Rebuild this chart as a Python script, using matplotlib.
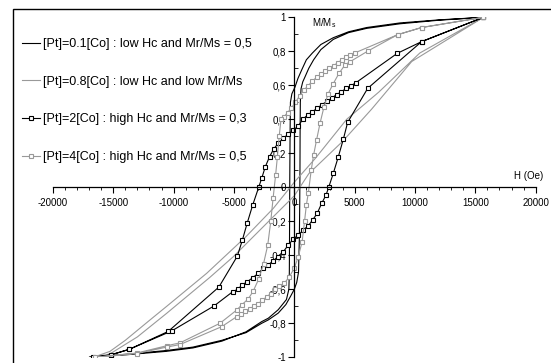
import matplotlib
matplotlib.use('Agg')
import matplotlib.pyplot as plt
from matplotlib.ticker import MultipleLocator, FuncFormatter
from matplotlib.patches import Rectangle

plt.rcParams['font.family'] = ['Liberation Sans', 'DejaVu Sans']
plt.rcParams['mathtext.fontset'] = 'custom'
plt.rcParams['mathtext.rm'] = 'Liberation Sans'

# series labels
labels = ['[Pt]=0.1[Co] : low Hc and Mr/Ms = 0,5',
          '[Pt]=0.8[Co] : low Hc and low Mr/Ms',
          '[Pt]=2[Co] : high Hc and Mr/Ms = 0,3',
          '[Pt]=4[Co] : high Hc and Mr/Ms = 0,5']

# [Pt]=0.1[Co] - descending branch then ascending branch
h1 = [15670, 12000, 8760, 6000, 4500, 3230, 2200, 1500, 1000, 610, 300, 60, -200, -320,
      -350, -370, -385, -395, -410, -450, -650, -1330, -2150, -2700, -4000, -6000, -8400,
      -10600, -13890, -16650, -17000,
      -16650, -13890, -10600, -8400, -6000, -4000, -2700, -2150, -1330, -700, -300, 0, 200,
      350, 420, 450, 470, 480, 500, 560, 700, 890, 1200, 1600, 2200, 3230, 4500, 6000,
      8760, 12000, 15670]
m1 = [1.0, 0.985, 0.967, 0.94, 0.915, 0.88, 0.84, 0.79, 0.75, 0.69, 0.64, 0.59, 0.55, 0.5,
      0.3, 0.1, -0.1, -0.3, -0.5, -0.6, -0.66, -0.72, -0.77, -0.79, -0.85, -0.905, -0.945,
      -0.965, -0.985, -0.998, -1.0,
      -0.997, -0.982, -0.96, -0.94, -0.9, -0.855, -0.8, -0.78, -0.74, -0.69, -0.64, -0.6, -0.56,
      -0.5, -0.3, -0.1, 0.1, 0.3, 0.5, 0.58, 0.62, 0.65, 0.7, 0.75, 0.81, 0.87, 0.91, 0.935,
      0.962, 0.983, 1.0]

# [Pt]=0.8[Co]
h2 = [15670, 10400, 7000, 4340, 1740, 0, -1740, -4000, -7260, -10570, -11950, -14000,
      -15270, -16650,
      -15270, -13000, -10570, -7000, -5050, -1740, 0, 1200, 4000, 6410, 9730, 15670]
m2 = [1.0, 0.79, 0.56, 0.40, 0.17, 0.03, -0.124, -0.29, -0.506, -0.70, -0.78, -0.90,
      -0.965, -1.0,
      -0.98, -0.88, -0.741, -0.53, -0.408, -0.173, -0.05, 0.08, 0.27, 0.46, 0.74, 1.0]

# [Pt]=2[Co]
h3 = [15670, 10550, 8530, 5100, 4700, 4300, 3900, 3500, 3100, 2700, 2300, 1900, 1500, 1100,
      700, 330, -80, -500, -910, -1330, -1700, -2050, -2400, -2700, -2950, -3450, -3900,
      -4300, -4720, -6250, -10450, -13670, -15210, -16650,
      -15210, -13670, -10160, -6650, -5100, -4690, -4330, -3890, -3450, -2980, -2570, -2200,
      -1740, -1380, -910, -500, -80, 330, 750, 1160, 1520, 1900, 2270, 2630, 2850, 3230,
      3650, 4060, 4420, 6080, 10550, 15670]
m3 = [1.0, 0.857, 0.788, 0.615, 0.598, 0.582, 0.562, 0.545, 0.525, 0.505, 0.487, 0.465,
      0.445, 0.425, 0.40, 0.36, 0.337, 0.313, 0.288, 0.259, 0.226, 0.18, 0.121, 0.053, 0.0,
      -0.105, -0.21, -0.31, -0.405, -0.587, -0.848, -0.953, -0.986, -1.0,
      -0.986, -0.953, -0.845, -0.698, -0.614, -0.6, -0.575, -0.555, -0.532, -0.506, -0.476,
      -0.457, -0.434, -0.408, -0.379, -0.34, -0.304, -0.281, -0.251, -0.226, -0.192, -0.153,
      -0.094, -0.045, 0.0, 0.082, 0.18, 0.282, 0.382, 0.582, 0.857, 1.0]

# [Pt]=4[Co]
h4 = [15670, 10550, 8570, 5000, 4650, 4300, 3950, 3600, 3250, 2900, 2550, 2200, 1850, 1500,
      1150, 800, 450, 100, -250, -550, -850, -1100, -1250, -1400, -1550, -1750, -1950, -2200,
      -2550, -2950, -3400, -3800, -4360, -4770, -6160, -9470, -10570, -13060, -16510,
      -13060, -10570, -9470, -6020, -4770, -4400, -4050, -3700, -3350, -3000, -2650, -2300,
      -1950, -1600, -1250, -830, -410, 0, 330, 650, 850, 1000, 1160, 1400, 1600, 1850, 2130,
      2450, 2800, 3230, 3700, 4200, 4620, 6130, 8570, 10550, 15670]
m4 = [1.0, 0.94, 0.898, 0.79, 0.78, 0.767, 0.75, 0.733, 0.715, 0.70, 0.683, 0.665, 0.647,
      0.625, 0.598, 0.572, 0.54, 0.50, 0.466, 0.44, 0.415, 0.40, 0.30, 0.18, 0.07, -0.06,
      -0.20, -0.34, -0.45, -0.54, -0.61, -0.655, -0.692, -0.722, -0.80, -0.915, -0.932,
      -0.975, -1.0,
      -0.978, -0.94, -0.925, -0.82, -0.761, -0.745, -0.73, -0.715, -0.70, -0.685, -0.665,
      -0.645, -0.625, -0.60, -0.58, -0.565, -0.526, -0.476, -0.408, -0.32, -0.2, -0.104,
      -0.035, 0.10, 0.19, 0.28, 0.376, 0.47, 0.55, 0.61, 0.67, 0.72, 0.739, 0.803, 0.898,
      0.94, 1.0]

black = '#000000'
grey = '#999999'

fig = plt.figure(figsize=(5.51, 3.63), dpi=100)
ax = fig.add_axes([0.096, 0.0157, 0.8762, 0.9366])

ax.plot(h1, m1, color=black, lw=0.8, label=labels[0])
ax.plot(h2, m2, color=grey, lw=0.8, label=labels[1])
ax.plot(h3, m3, color=black, lw=0.8, marker='s', ms=3.3, mfc='white', mec=black, mew=0.8,
        label=labels[2])
ax.plot(h4, m4, color=grey, lw=0.8, marker='s', ms=3.3, mfc='white', mec=grey, mew=0.8,
        label=labels[3])

ax.set_xlim(-20000, 20000)
ax.set_ylim(-1, 1)
ax.spines['left'].set_position(('data', 0))
ax.spines['bottom'].set_position(('data', 0))
ax.spines['top'].set_visible(False)
ax.spines['right'].set_visible(False)
for s in ['left', 'bottom']:
    ax.spines[s].set_linewidth(0.9)

ax.xaxis.set_major_locator(MultipleLocator(5000))
ax.xaxis.set_minor_locator(MultipleLocator(1000))
ax.yaxis.set_major_locator(MultipleLocator(0.2))
ax.yaxis.set_minor_locator(MultipleLocator(0.1))


def comma(v, pos):
    if abs(v) < 1e-9:
        return '0'
    s = ('%.1f' % v).rstrip('0').rstrip('.')
    return s.replace('.', ',')


ax.xaxis.set_major_formatter(FuncFormatter(lambda v, p: '%d' % round(v)))
ax.yaxis.set_major_formatter(FuncFormatter(comma))
ax.tick_params(axis='x', which='major', direction='out', length=4, width=0.8, pad=4,
               labelsize=7)
ax.tick_params(axis='x', which='minor', direction='out', length=2.5, width=0.6)
ax.tick_params(axis='y', which='major', direction='out', length=4, width=0.8, pad=2,
               labelsize=7)
ax.tick_params(axis='y', which='minor', direction='in', length=3, width=0.6)

ax.text(1470, 0.966, r'M/M$_\mathrm{s}$', fontsize=7, va='center', ha='left')
ax.text(18200, 0.066, 'H (Oe)', fontsize=7, va='center', ha='left')

ax.legend(loc='upper left', bbox_to_anchor=(22 / 551, 1 - 38 / 363),
          bbox_transform=fig.transFigure, frameon=False, fontsize=9,
          handlelength=1.45, handletextpad=0.25, labelspacing=2.05,
          borderpad=0, borderaxespad=0, numpoints=1)

fig.patches.append(Rectangle((13 / 551, -0.01), 1.0, 1 - 9 / 363 + 0.01,
                             transform=fig.transFigure, fill=False,
                             edgecolor='black', lw=1))

fig.savefig('out.png', dpi=100)
